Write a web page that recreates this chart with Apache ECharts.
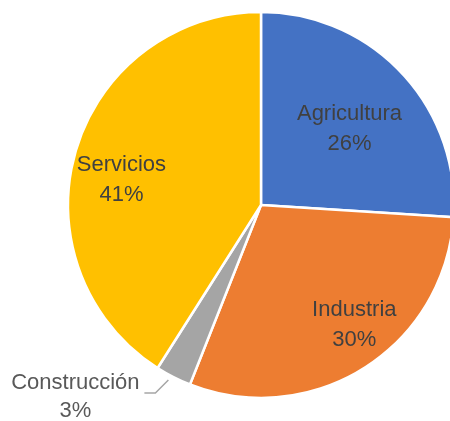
<!DOCTYPE html>
<html>
<head>
<meta charset="utf-8">
<script src="https://cdn.jsdelivr.net/npm/echarts@6/dist/echarts.min.js"></script>
<style>
  html, body { margin: 0; padding: 0; background: #fff; }
  #chart { width: 450px; height: 421px; }
</style>
</head>
<body>
<div id="chart"></div>
<script>
// Sector shares of the economy (percent)
const sectors = ['Agricultura', 'Industria', 'Construcción', 'Servicios'];
const shares = [26, 30, 3, 41];
const colors = ['#4472C4', '#ED7D31', '#A5A5A5', '#FFC000'];

// Per-slice label placement nudges (pixels) and placement mode
const labelOffsets = [[16, -8], [40, 36], null, [-44, 3]];
const labelInside = [true, true, false, true];

const chart = echarts.init(document.getElementById('chart'), null, { renderer: 'canvas' });

const data = sectors.map((name, i) => {
  const item = {
    name,
    value: shares[i],
    itemStyle: { color: colors[i] }
  };
  if (labelInside[i]) {
    item.label = {
      position: 'inside',
      offset: labelOffsets[i],
      color: '#404040'
    };
    item.labelLine = { show: false };
  } else {
    // outside label: both lines centred inside a fixed-width box
    item.label = {
      position: 'outside',
      alignTo: 'none',
      formatter: (p) => '{t|' + p.name + '}\n{t|' + p.value + '%}',
      rich: {
        t: {
          width: 126,
          align: 'center',
          color: '#595959',
          fontFamily: 'Liberation Sans, Arial, sans-serif',
          fontSize: 22,
          lineHeight: 28
        }
      }
    };
    item.labelLine = {
      show: true,
      lineStyle: { color: '#A6A6A6', width: 1.5 }
    };
  }
  return item;
});

// Leader line: short diagonal out of the slice, then a short horizontal tail
function leaderLayout(params) {
  if (labelInside[params.dataIndex] || !params.labelLinePoints) return {};
  const p0 = params.labelLinePoints[0];
  const start = [p0[0] - 5, p0[1] + 3];
  const bend = [start[0] - 13, start[1] + 13];
  const tail = [bend[0] - 11, bend[1]];
  return {
    x: tail[0] - 6,
    y: tail[1] + 4,
    align: 'right',
    verticalAlign: 'middle',
    labelLinePoints: [start, bend, tail]
  };
}

chart.setOption({
  animation: false,
  series: [{
    type: 'pie',
    center: [261, 205],
    radius: [0, 193],
    startAngle: 90,
    clockwise: true,
    avoidLabelOverlap: false,
    itemStyle: { borderColor: '#ffffff', borderWidth: 2.5 },
    label: {
      fontFamily: 'Liberation Sans, Arial, sans-serif',
      fontSize: 22,
      lineHeight: 30,
      align: 'center',
      formatter: (p) => p.name + '\n' + p.value + '%'
    },
    labelLayout: leaderLayout,
    emphasis: { disabled: true },
    data
  }]
});
</script>
</body>
</html>
